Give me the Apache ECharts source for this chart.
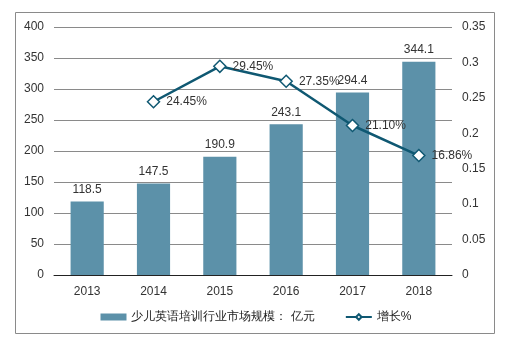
<!DOCTYPE html>
<html><head><meta charset="utf-8">
<script src="https://cdn.jsdelivr.net/npm/echarts@6/dist/echarts.min.js"></script>
<style>html,body{margin:0;padding:0;background:#fff}#c{width:512px;height:345px}</style>
</head><body><div id="c"></div>
<script>
var categories = ['2013','2014','2015','2016','2017','2018'];
var marketSize = [118.5,147.5,190.9,243.1,294.4,344.1];
var growth = [null,0.2445,0.2945,0.2735,0.2110,0.1686];
var growthLabels = ['','24.45%','29.45%','27.35%','21.10%','16.86%'];
var leftTicks = [0,400,50];
var rightTicks = [0,0.35,0.05];
var barName = '少儿英语培训行业市场规模： 亿元';
var lineName = '增长%';

var chart = echarts.init(document.getElementById('c'));
var ff = '"Liberation Sans", Arial, sans-serif';
chart.setOption({
  animation:false,
  textStyle:{fontFamily:ff},
  graphic:[{type:'rect',shape:{x:15.5,y:12.5,width:479,height:321},style:{fill:'none',stroke:'#8a8a8a',lineWidth:1}}],
  grid:{left:54,right:60,top:27,bottom:70},
  legend:{bottom:17,left:'center',itemGap:30,itemWidth:26,itemHeight:7,
    textStyle:{fontSize:12,color:'#222',fontFamily:ff},
    data:[{name:barName,icon:'rect'},{name:lineName}]},
  xAxis:{type:'category',data:categories,
    axisLine:{lineStyle:{color:'#222'}},axisTick:{show:false},
    axisLabel:{fontSize:12,color:'#333',margin:11}},
  yAxis:[
    {type:'value',min:leftTicks[0],max:leftTicks[1],interval:leftTicks[2],
     axisLine:{show:false},axisTick:{show:false},
     splitLine:{lineStyle:{color:'#8a8a8a'}},
     axisLabel:{fontSize:12,color:'#333',margin:10}},
    {type:'value',min:rightTicks[0],max:rightTicks[1],interval:rightTicks[2],
     axisLine:{show:false},axisTick:{show:false},splitLine:{show:false},
     axisLabel:{fontSize:12,color:'#333',margin:10,align:'left'}}
  ],
  series:[
    {name:barName,type:'bar',data:marketSize,barWidth:'50%',
     itemStyle:{color:'#5c91a9'},
     label:{show:true,position:'top',fontSize:12,color:'#333',distance:6}},
    {name:lineName,type:'line',yAxisIndex:1,data:growth,
     symbol:'diamond',symbolSize:12,
     lineStyle:{color:'#0f5872',width:2.5},
     itemStyle:{color:'#fff',borderColor:'#0f5872',borderWidth:1.5},
     label:{show:true,position:'right',distance:6,fontSize:12,color:'#333',
       formatter:function(p){return growthLabels[p.dataIndex];}}}
  ]
});
</script></body></html>
